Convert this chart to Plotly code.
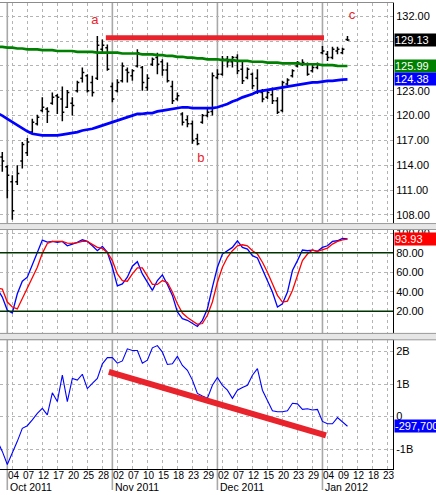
import pandas as pd
import plotly.graph_objects as go
from plotly.subplots import make_subplots

# ---------------- data ----------------
holidays = ["2011-11-24", "2011-12-26", "2012-01-02", "2012-01-16"]
dates = [d for d in pd.bdate_range("2011-09-29", "2012-01-24")
         if d.strftime("%Y-%m-%d") not in holidays]

bar_open = [116.0, 115.0, 113.8, 112.0, 112.0, 114.5, 115.5, 118.0, 119.0, 120.6,
            120.8, 121.5, 122.4, 122.0, 121.0, 121.5, 123.0, 124.5, 124.8, 124.0,
            124.5, 128.0, 128.2, 123.5, 123.0, 124.2, 125.5, 124.8, 126.0, 125.8,
            123.4, 126.2, 127.0, 126.5, 125.5, 123.5, 122.0, 120.2, 119.5, 119.0,
            117.2, 119.2, 120.0, 120.5, 124.6, 125.0, 126.8, 126.5, 127.0, 125.6,
            124.6, 125.0, 124.5, 122.8, 122.2, 122.5, 121.8, 120.6, 123.8, 124.8,
            126.0, 126.2, 126.2, 125.4, 125.8, 127.6, 127.4, 127.0, 127.8, 127.6,
            129.2]
bar_high = [117.0, 115.6, 114.0, 112.8, 114.0, 116.8, 117.3, 119.6, 120.1, 122.2,
            121.0, 122.8, 122.6, 123.5, 123.1, 122.2, 124.2, 125.8, 125.0, 124.8,
            129.6, 129.2, 128.6, 124.0, 124.4, 126.4, 125.8, 125.6, 128.0, 126.0,
            125.0, 127.0, 127.6, 126.8, 126.4, 124.2, 122.8, 120.4, 120.0, 119.4,
            117.8, 120.2, 120.8, 125.2, 125.6, 127.2, 127.2, 127.2, 127.4, 126.6,
            125.8, 125.2, 125.6, 123.2, 123.2, 123.4, 122.2, 124.2, 124.5, 125.6,
            126.6, 126.8, 126.4, 126.2, 126.4, 128.4, 127.8, 128.3, 128.3, 128.2,
            129.6]
bar_low = [114.0, 113.2, 110.0, 107.4, 111.6, 113.6, 115.1, 117.8, 118.8, 120.4,
           119.1, 121.3, 120.2, 119.3, 120.9, 120.0, 122.8, 124.0, 122.8, 122.3,
           124.3, 127.6, 125.4, 121.6, 122.8, 124.0, 124.0, 124.2, 125.8, 123.0,
           123.0, 126.0, 125.0, 124.8, 124.0, 121.4, 121.8, 118.8, 118.6, 116.6,
           116.4, 119.0, 119.8, 120.0, 124.4, 124.8, 125.8, 125.8, 125.0, 123.8,
           124.4, 123.2, 122.6, 121.6, 122.0, 121.4, 120.2, 120.4, 123.6, 124.6,
           125.8, 126.0, 124.8, 125.2, 125.6, 127.4, 126.6, 126.8, 127.4, 127.4,
           129.0]
bar_close = [115.0, 114.5, 112.8, 108.5, 113.0, 116.5, 116.8, 119.2, 119.8, 121.0,
             120.5, 122.2, 122.2, 120.4, 122.8, 121.2, 124.0, 125.2, 123.0, 122.8,
             128.5, 128.5, 125.6, 122.0, 124.0, 126.0, 125.2, 125.4, 127.6, 124.0,
             124.5, 126.8, 126.2, 125.5, 124.2, 121.8, 122.4, 119.2, 119.0, 117.0,
             116.6, 120.0, 120.4, 124.8, 125.0, 126.8, 126.5, 127.0, 125.4, 124.2,
             125.6, 123.6, 123.0, 122.0, 122.8, 121.8, 120.4, 124.0, 124.3, 125.4,
             126.4, 126.4, 125.0, 125.8, 126.2, 127.8, 127.0, 128.0, 128.0, 128.0,
             129.13]

ma_slow = [128.3, 128.3, 128.2, 128.2, 128.1, 128.1, 128.0, 128.0, 128.0, 127.9,
           127.9, 127.9, 127.8, 127.8, 127.8, 127.8, 127.7, 127.7, 127.7, 127.7,
           127.6, 127.6, 127.6, 127.6, 127.6, 127.5, 127.5, 127.5, 127.5, 127.4,
           127.4, 127.4, 127.3, 127.3, 127.2, 127.2, 127.1, 127.1, 127.0, 127.0,
           126.9, 126.9, 126.8, 126.8, 126.8, 126.7, 126.7, 126.7, 126.6, 126.6,
           126.6, 126.5, 126.5, 126.5, 126.4, 126.4, 126.4, 126.3, 126.3, 126.3,
           126.3, 126.2, 126.2, 126.2, 126.2, 126.1, 126.1, 126.1, 126.0, 126.0,
           125.99]
ma_fast = [120.3, 120.0, 119.6, 119.2, 118.8, 118.4, 118.1, 117.8, 117.7, 117.6,
           117.6, 117.6, 117.6, 117.7, 117.8, 117.9, 118.0, 118.2, 118.3, 118.4,
           118.6, 118.8, 119.0, 119.2, 119.4, 119.6, 119.8, 120.0, 120.2, 120.2,
           120.3, 120.3, 120.5, 120.6, 120.7, 120.8, 120.9, 121.0, 121.0, 120.9,
           120.9, 120.9, 120.9, 120.9, 121.0, 121.2, 121.4, 121.7, 121.9, 122.2,
           122.4, 122.6, 122.9, 123.0, 123.1, 123.2, 123.3, 123.4, 123.5, 123.6,
           123.7, 123.8, 123.9, 124.0, 124.0, 124.1, 124.2, 124.2, 124.3, 124.35,
           124.38]

stoch_k = [43.0, 34.6, 21.0, 18.3, 38.0, 50.8, 54.9, 68.5, 80.3, 92.9,
           90.8, 91.5, 90.5, 91.5, 87.1, 88.8, 90.5, 93.2, 91.5, 87.1,
           82.0, 86.4, 80.3, 65.1, 46.1, 48.1, 54.9, 66.1, 70.8, 58.3,
           49.8, 41.4, 51.5, 57.3, 47.5, 36.3, 19.3, 12.5, 10.8, 7.5,
           4.5, 10.8, 22.7, 44.7, 65.1, 78.6, 82.0, 85.4, 92.2, 85.4,
           83.7, 76.9, 74.6, 63.4, 51.5, 39.7, 24.4, 27.8, 39.7, 61.7,
           71.9, 82.7, 82.0, 82.7, 81.4, 85.4, 87.1, 91.5, 92.2, 94.5,
           94.2]
stoch_d = [43.7, 42.7, 29.5, 24.4, 22.4, 32.9, 43.0, 54.9, 65.1, 79.3,
           89.5, 91.5, 91.5, 91.5, 89.8, 89.5, 90.2, 91.5, 91.5, 88.8,
           85.4, 84.4, 80.3, 71.9, 58.3, 51.5, 50.8, 58.3, 64.4, 64.4,
           56.6, 47.5, 47.5, 51.5, 49.5, 39.7, 27.8, 18.3, 13.6, 10.2,
           6.8, 7.5, 15.9, 29.5, 49.8, 65.1, 75.3, 82.0, 87.1, 88.1,
           87.1, 82.0, 78.6, 70.2, 60.0, 48.1, 36.3, 29.5, 30.5, 41.4,
           56.6, 71.9, 78.6, 82.7, 81.4, 82.7, 84.7, 88.8, 91.5, 93.2,
           93.93]

flow = [-0.75, -1.07, -1.47, -1.12, -0.76, -0.36, -0.28, -0.10, 0.10, 0.25,
        0.05, 0.73, 0.46, 1.27, 0.46, 1.17, 1.12, 1.30, 0.86, 1.02,
        1.17, 1.62, 1.81, 1.81, 1.64, 1.71, 2.08, 2.03, 2.03, 1.64,
        1.73, 2.11, 2.18, 1.98, 1.60, 1.62, 1.85, 1.57, 1.42, 1.12,
        0.71, 0.63, 0.56, 0.96, 1.20, 0.96, 0.81, 0.56, 0.81, 0.89,
        0.96, 1.27, 1.47, 0.81, 0.51, 0.18, 0.15, 0.15, 0.18, 0.41,
        0.39, 0.22, 0.24, 0.20, 0.22, -0.15, -0.22, -0.22, -0.03, -0.15,
        -0.2977]

# hand-drawn trend lines (trading-day position, value)
resist_x = [21.7, 65.3]
resist_y = [129.4, 129.4]
diverg_x = [22.3, 65.7]
diverg_y = [1.37, -0.58]

# point labels
pt_text = ["a", "b", "c"]
pt_x = [19.5, 40.7, 70.9]
pt_y = [131.4, 114.75, 132.0]

price_ticks = [108, 111, 114, 117, 120, 123, 126, 129, 132]
stoch_ticks = [20, 40, 60, 80, 100]
flow_ticks = [-1, 0, 1, 2]
flow_ticktext = ["-1B", "0", "1B", "2B"]

# ---------------- figure ----------------
x = list(range(len(bar_close)))
FONT = "Liberation Sans, Arial, sans-serif"
GRID = "#b4b4b4"
MONTHLINE = "#a8a8a8"

fig = make_subplots(rows=3, cols=1, shared_xaxes=True)

fig.add_trace(go.Scatter(x=x, y=ma_slow, mode="lines",
                         line=dict(color="#008000", width=2.7)), row=1, col=1)
fig.add_trace(go.Scatter(x=x, y=ma_fast, mode="lines",
                         line=dict(color="#0000ff", width=2.7)), row=1, col=1)
fig.add_trace(go.Ohlc(x=x, open=bar_open, high=bar_high, low=bar_low, close=bar_close,
                      increasing=dict(line=dict(color="black", width=1.5)),
                      decreasing=dict(line=dict(color="black", width=1.5)),
                      tickwidth=0.4), row=1, col=1)
fig.add_trace(go.Scatter(x=resist_x, y=resist_y, mode="lines",
                         line=dict(color="#e8232b", width=5)), row=1, col=1)
fig.add_trace(go.Scatter(x=pt_x, y=pt_y, mode="text", text=pt_text,
                         textfont=dict(color="#e8232b", size=13, family=FONT)), row=1, col=1)

fig.add_trace(go.Scatter(x=x, y=stoch_k, mode="lines",
                         line=dict(color="#0000ff", width=1.3)), row=2, col=1)
fig.add_trace(go.Scatter(x=x, y=stoch_d, mode="lines",
                         line=dict(color="#ff0000", width=1.3)), row=2, col=1)

fig.add_trace(go.Scatter(x=x, y=flow, mode="lines",
                         line=dict(color="#0000ff", width=1.1)), row=3, col=1)
fig.add_trace(go.Scatter(x=diverg_x, y=diverg_y, mode="lines",
                         line=dict(color="#e8232b", width=6)), row=3, col=1)

# x axis ticks every 3 trading days
tick_idx = [i for i in range(len(dates)) if i % 3 == 0]
tick_txt = [dates[i].strftime("%d") for i in tick_idx]
month_idx = [i for i in range(1, len(dates)) if dates[i].month != dates[i - 1].month]
x_range = [0.54, 79.1]

xcommon = dict(range=x_range, tickmode="array", tickvals=tick_idx, ticktext=tick_txt,
               showgrid=True, gridcolor=GRID, griddash="dot", gridwidth=1,
               zeroline=False, ticks="", rangeslider=dict(visible=False),
               showline=True, mirror=True, linecolor="#8c8c8c", linewidth=1,
               showticklabels=False)
fig.update_xaxes(**xcommon)
fig.update_xaxes(row=3, col=1, linecolor="black")

ycommon = dict(side="right", showgrid=True, gridcolor=GRID, griddash="dot", gridwidth=1,
               zeroline=False, ticks="", showline=True, linecolor="black", linewidth=1,
               tickfont=dict(family=FONT, size=11, color="black"), tickmode="array")
fig.update_yaxes(**ycommon)
fig.update_yaxes(range=[106.95, 133.6], tickvals=price_ticks, tickformat=".2f",
                 domain=[0.5267, 1.0], row=1, col=1)
fig.update_yaxes(range=[-2.6, 103.7], tickvals=stoch_ticks, tickformat=".2f",
                 domain=[0.291, 0.5139], row=2, col=1)
fig.update_yaxes(range=[-1.61, 2.357], tickvals=flow_ticks, ticktext=flow_ticktext,
                 domain=[0.0, 0.2772], row=3, col=1)

shapes = []
# month separators
for m in month_idx:
    shapes.append(dict(type="line", xref="x3", yref="paper", x0=m, x1=m, y0=-0.045, y1=1.0,
                       line=dict(color=MONTHLINE, width=1.6), layer="below"))
# stochastic bands
for lvl in (20, 80):
    shapes.append(dict(type="line", xref="x2 domain", yref="y2", x0=0, x1=1, y0=lvl, y1=lvl,
                       line=dict(color="#003300", width=1.5)))
# gaps between panels (span the full width, over the axis labels)
for (a, b) in [(0.5139, 0.5267), (0.2772, 0.291)]:
    shapes.append(dict(type="rect", xref="paper", yref="paper", x0=-0.01, x1=1.12, y0=a, y1=b,
                       fillcolor="#e6e6e6", line=dict(color="#9a9a9a", width=1),
                       layer="above"))

annotations = []
# day labels
for i, t in zip(tick_idx, tick_txt):
    if x_range[0] <= i <= x_range[1]:
        annotations.append(dict(x=i, y=-0.0135, xref="x3", yref="paper", xanchor="center",
                                yanchor="middle", xshift=1.5, showarrow=False, text=t,
                                borderpad=0,
                                font=dict(family=FONT, size=10, color="black")))
# month labels
for m in month_idx:
    annotations.append(dict(x=m, y=-0.039, xref="x3", yref="paper", xanchor="left",
                            yanchor="middle", xshift=2, showarrow=False, borderpad=0,
                            text=dates[m].strftime("%b %Y"),
                            font=dict(family=FONT, size=10.5, color="black")))

def value_box(yref, val, text, bg):
    return dict(x=1.0, xref="paper", y=val, yref=yref, xanchor="left", yanchor="middle",
                xshift=1, showarrow=False, text=text, bgcolor=bg, width=41, align="left",
                borderpad=0, font=dict(family=FONT, size=11, color="white"))

annotations.append(value_box("y", bar_close[-1], f"{bar_close[-1]:.2f}", "black"))
annotations.append(value_box("y", ma_slow[-1], f"{ma_slow[-1]:.2f}", "#008000"))
annotations.append(value_box("y", ma_fast[-1], f"{ma_fast[-1]:.2f}", "#0000ff"))
annotations.append(value_box("y2", stoch_d[-1], f"{stoch_d[-1]:.2f}", "#ff0000"))
annotations.append(value_box("y3", flow[-1], f"{flow[-1] * 1e6:,.0f}", "#0000ff"))

fig.update_layout(width=436, height=495, margin=dict(l=0, r=43, t=0, b=26),
                  paper_bgcolor="white", plot_bgcolor="white", showlegend=False,
                  shapes=shapes, annotations=annotations,
                  font=dict(family=FONT, size=11, color="black"))

fig.write_html("out.html", config={"displayModeBar": False},
               post_script="document.body.style.margin='0px';"
                           "document.body.style.overflow='hidden';")
